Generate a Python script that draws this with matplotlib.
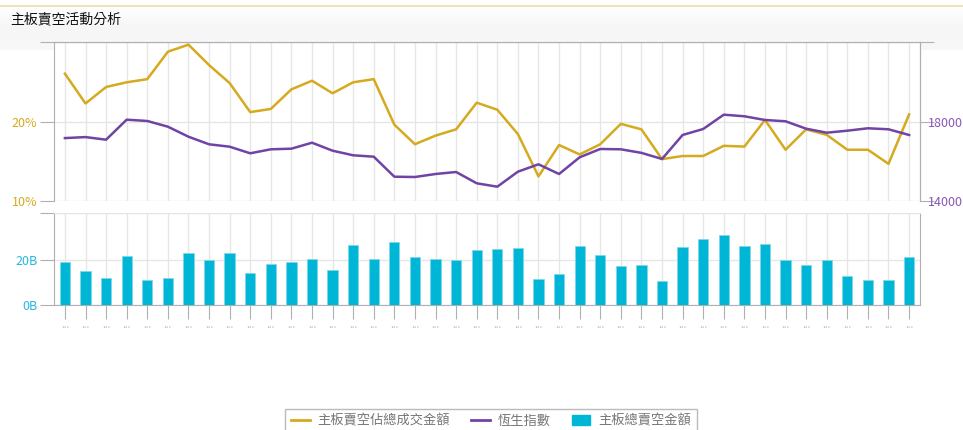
import numpy as np
import matplotlib
matplotlib.use("Agg")
import matplotlib.pyplot as plt
from matplotlib.lines import Line2D
from matplotlib.patches import Patch

plt.rcParams['font.family'] = ['Noto Sans CJK TC', 'DejaVu Sans']

# --- data ---
short_pct = [26.2, 22.4, 24.5, 25.1, 25.5, 29.0, 29.9, 27.3, 25.0, 21.3,
             21.7, 24.2, 25.3, 23.7, 25.1, 25.5, 19.7, 17.2, 18.3, 19.1,
             22.5, 21.6, 18.5, 13.1, 17.1, 15.9, 17.2, 19.8, 19.1, 15.3,
             15.7, 15.7, 17.0, 16.9, 20.3, 16.5, 19.1, 18.4, 16.5, 16.5,
             14.7, 21.0]
hsi = [17194, 17245, 17112, 18133, 18066, 17776, 17265, 16877, 16755, 16418,
       16622, 16653, 16959, 16551, 16316, 16245, 15224, 15209, 15362, 15464,
       14888, 14714, 15480, 15857, 15362, 16214, 16638, 16622, 16440, 16128,
       17352, 17658, 18388, 18306, 18117, 18051, 17673, 17469, 17571, 17694,
       17643, 17352]
short_amt = [19.2, 15.2, 12.2, 21.8, 11.3, 12.2, 23.3, 19.9, 23.3, 14.3,
             18.3, 19.2, 20.7, 15.8, 26.7, 20.3, 28.2, 21.2, 20.3, 19.9,
             24.4, 24.8, 25.3, 11.8, 13.8, 26.3, 22.2, 17.3, 17.8, 10.7,
             25.8, 29.3, 31.4, 26.3, 27.3, 19.9, 17.8, 19.9, 12.8, 11.3,
             11.3, 21.2]
x_labels = ['...'] * len(short_pct)

gold = '#D5AA1E'
purple = '#7043A4'
cyan = '#00B6D6'
grid_c = '#E6E6E6'
axis_c = '#B0B0B0'

x = np.arange(len(short_pct))

fig = plt.figure(figsize=(9.63, 4.30), dpi=100)

# header band with gradient
hdr = fig.add_axes([0, 1 - 50 / 430, 1, 44 / 430])
grad = np.linspace(0, 1, 50).reshape(-1, 1)
hdr.imshow(grad, aspect='auto', cmap=matplotlib.colors.LinearSegmentedColormap.from_list(
    'g', ['#FFFFFF', '#F6F6F6', '#F8F8F8']), extent=[0, 1, 0, 1])
hdr.axis('off')
fig.add_artist(Line2D([0, 1], [1 - 6 / 430] * 2, color='#EDE5B5', lw=1.5))
fig.text(10 / 963, 1 - 19 / 430, '主板賣空活動分析', fontsize=10, va='center', color='#111111')

left = 54 / 963
width = (920 - 54) / 963

# --- top panel ---
ax1 = fig.add_axes([left, 1 - 200.7 / 430, width, 158.4 / 430])
ax1.plot(x, short_pct, color=gold, lw=1.8, zorder=3)
ax1.set_xlim(-0.53, len(x) - 0.47)
ax1.set_ylim(10, 30.2)
ax1.set_yticks([10, 20, 30.2])
ax1.set_yticklabels(['10%', '20%', ''])
ax1.tick_params(axis='y', colors=axis_c, labelcolor=gold, length=10, labelsize=9, pad=2)
ax1.set_xticks(x)
ax1.tick_params(axis='x', length=0, labelbottom=False)
ax1.grid(True, color=grid_c, lw=1)
ax1.set_axisbelow(True)
ax1.spines['bottom'].set_visible(False)
for s in ['left', 'right', 'top']:
    ax1.spines[s].set_color(axis_c)

ax2 = ax1.twinx()
ax2.plot(x, hsi, color=purple, lw=1.8, zorder=3)
ax2.set_ylim(14000, 22080)
ax2.set_yticks([14000, 18000, 22080])
ax2.set_yticklabels(['14000', '18000', ''])
ax2.tick_params(axis='y', colors=axis_c, labelcolor='#8A55B8', length=10, labelsize=9, pad=-4)
for s in ['bottom', 'left']:
    ax2.spines[s].set_visible(False)
for s in ['right', 'top']:
    ax2.spines[s].set_color(axis_c)

# --- bottom panel ---
ax3 = fig.add_axes([left, 1 - 305 / 430, width, 92 / 430])
ax3.bar(x, short_amt, width=0.5, color=cyan, edgecolor='#7FD8EA', lw=0.6, zorder=3)
ax3.set_xlim(-0.53, len(x) - 0.47)
ax3.set_ylim(0, 41)
ax3.set_yticks([0, 20, 41])
ax3.set_yticklabels(['0B', '20B', ''])
ax3.tick_params(axis='y', colors=axis_c, labelcolor='#29B6E0', length=10, labelsize=9, pad=2)
ax3.set_xticks(x)
ax3.set_xticklabels(x_labels, fontsize=7, color='#BBBBBB')
ax3.tick_params(axis='x', colors=axis_c, labelcolor='#BBBBBB', length=10, pad=1)
ax3.grid(True, color=grid_c, lw=1)
ax3.set_axisbelow(True)
for s in ['left', 'right', 'top', 'bottom']:
    ax3.spines[s].set_color(axis_c)
ax3.spines['top'].set_color(grid_c)

# --- legend ---
handles = [Line2D([], [], color=gold, lw=2),
           Line2D([], [], color=purple, lw=2),
           Patch(facecolor=cyan, edgecolor=cyan)]
labels = ['主板賣空佔總成交金額', '恆生指數', '主板總賣空金額']
leg = fig.legend(handles, labels, loc='upper center', bbox_to_anchor=(491 / 963, 1 - 402 / 430),
                 ncol=3, frameon=True, fancybox=False, fontsize=9.5, handlelength=1.4,
                 columnspacing=1.6, handletextpad=0.6, borderpad=0.45)
leg.get_frame().set_edgecolor('#AAAAAA')
for t in leg.get_texts():
    t.set_color('#777777')

fig.savefig('out.png', dpi=100)
